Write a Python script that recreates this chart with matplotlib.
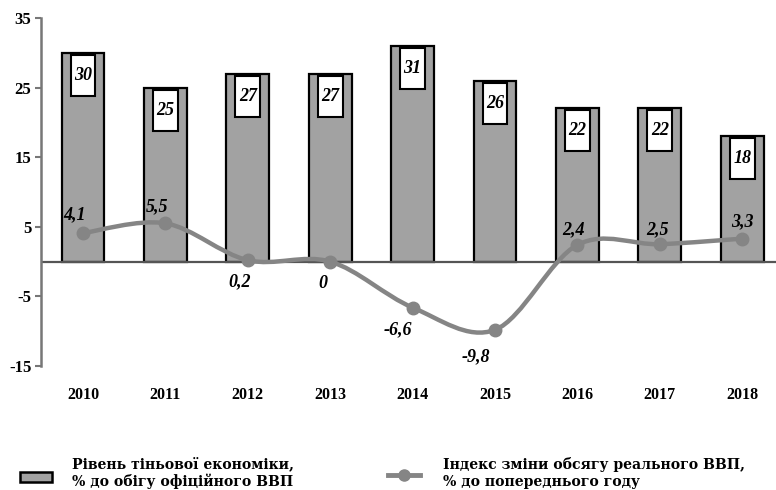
import matplotlib
matplotlib.use("Agg")
import matplotlib.pyplot as plt
from matplotlib.path import Path
from matplotlib.patches import PathPatch, Rectangle
from matplotlib.lines import Line2D
import numpy as np

years = ["2010", "2011", "2012", "2013", "2014", "2015", "2016", "2017", "2018"]
shadow_economy = [30, 25, 27, 27, 31, 26, 22, 22, 18]
gdp_index = [4.1, 5.5, 0.2, 0.0, -6.6, -9.8, 2.4, 2.5, 3.3]
gdp_labels = ["4,1", "5,5", "0,2", "0", "-6,6", "-9,8", "2,4", "2,5", "3,3"]
y_ticks = [35, 25, 15, 5, -5, -15]
legend_bar = "Рівень тіньової економіки,\n% до обігу офіційного ВВП"
legend_line = "Індекс зміни обсягу реального ВВП,\n% до попереднього году"

# label offsets in pixels (style)
label_offsets = [(-8, 18), (-8, 17), (-8, -22), (-7, -22), (-15, -22),
                 (-19, -27), (-4, 15), (-2, 14), (0, 17)]

BAR_C = "#a2a2a2"
LINE_C = "#858585"
serif_b = {"family": "Liberation Serif", "weight": "bold"}

fig = plt.figure(figsize=(7.76, 4.90), dpi=100)
W, H = 776, 490
ax = fig.add_axes([41 / W, 1 - 366 / H, (W - 41) / W, (366 - 18) / H])

x = np.arange(len(years))
ax.bar(x, shadow_economy, width=0.52, color=BAR_C, edgecolor="black",
       linewidth=1.6, zorder=2)

# value boxes inside the bars
px_per_unit = (366 - 18) / 50.0
box_h = 41 / px_per_unit
box_off = 2 / px_per_unit
box_w = 0.30
for xi, v in zip(x, shadow_economy):
    ax.add_patch(Rectangle((xi - box_w / 2, v - box_off - box_h), box_w, box_h,
                           facecolor="white", edgecolor="black", linewidth=1.5,
                           zorder=3))
    ax.text(xi, v - box_off - box_h / 2, str(v), ha="center", va="center",
            fontsize=13, family="Liberation Serif", weight="bold",
            style="italic", zorder=4)

ax.axhline(0, color="#555555", linewidth=1.6, zorder=2.5)

# smoothed line (Catmull-Rom Bezier through the data points)
pts = np.column_stack([x.astype(float), np.array(gdp_index, dtype=float)])
ext = np.vstack([pts[0], pts, pts[-1]])
verts = [tuple(pts[0])]
codes = [Path.MOVETO]
for i in range(1, len(ext) - 2):
    p0, p1, p2, p3 = ext[i - 1], ext[i], ext[i + 1], ext[i + 2]
    c1 = p1 + (p2 - p0) / 6.0
    c2 = p2 - (p3 - p1) / 6.0
    verts += [tuple(c1), tuple(c2), tuple(p2)]
    codes += [Path.CURVE4] * 3
ax.add_patch(PathPatch(Path(verts, codes), facecolor="none", edgecolor=LINE_C,
                       linewidth=3.2, zorder=5, capstyle="round"))
ax.plot(x, gdp_index, "o", color=LINE_C, markersize=9, zorder=6)

for xi, v, lab, (dx, dy) in zip(x, gdp_index, gdp_labels, label_offsets):
    ax.annotate(lab, (xi, v), xytext=(dx * 0.72, dy * 0.72),
                textcoords="offset points", ha="center", va="center",
                fontsize=13, family="Liberation Serif", weight="bold",
                style="italic", zorder=7)

ax.set_xlim(-0.51, 8.41)
ax.set_ylim(-15, 35)
ax.set_yticks(y_ticks)
ax.set_yticklabels([str(t) for t in y_ticks], fontdict=serif_b, fontsize=12)
ax.set_xticks(x)
ax.set_xticklabels(years, fontdict=serif_b, fontsize=11.5)
ax.tick_params(axis="x", length=0, pad=15)
ax.tick_params(axis="y", direction="out", length=4, width=1.5, color="#777777", pad=3)
for s in ["top", "right", "bottom"]:
    ax.spines[s].set_visible(False)
ax.spines["left"].set_color("#777777")
ax.spines["left"].set_linewidth(1.8)
ax.spines["left"].set_bounds(-15, 35)
ax.patch.set_visible(False)

# legend (manual)
fig.add_artist(Rectangle((20 / W, 1 - 482 / H), 32 / W, 10 / H,
                         transform=fig.transFigure, facecolor=BAR_C,
                         edgecolor="black", linewidth=1.8))
fig.add_artist(Line2D([388 / W, 420 / W], [1 - 475 / H, 1 - 475 / H],
                      transform=fig.transFigure, color=LINE_C, linewidth=3.5))
fig.add_artist(Line2D([404 / W], [1 - 475 / H], transform=fig.transFigure,
                      color=LINE_C, marker="o", markersize=8))
fig.text(72 / W, 1 - 473 / H, legend_bar, ha="left", va="center",
         family="DejaVu Serif", weight="bold", fontsize=10.1, linespacing=1.2)
fig.text(443 / W, 1 - 473 / H, legend_line, ha="left", va="center",
         family="DejaVu Serif", weight="bold", fontsize=10.1, linespacing=1.2)

fig.savefig("out.png", dpi=100)
